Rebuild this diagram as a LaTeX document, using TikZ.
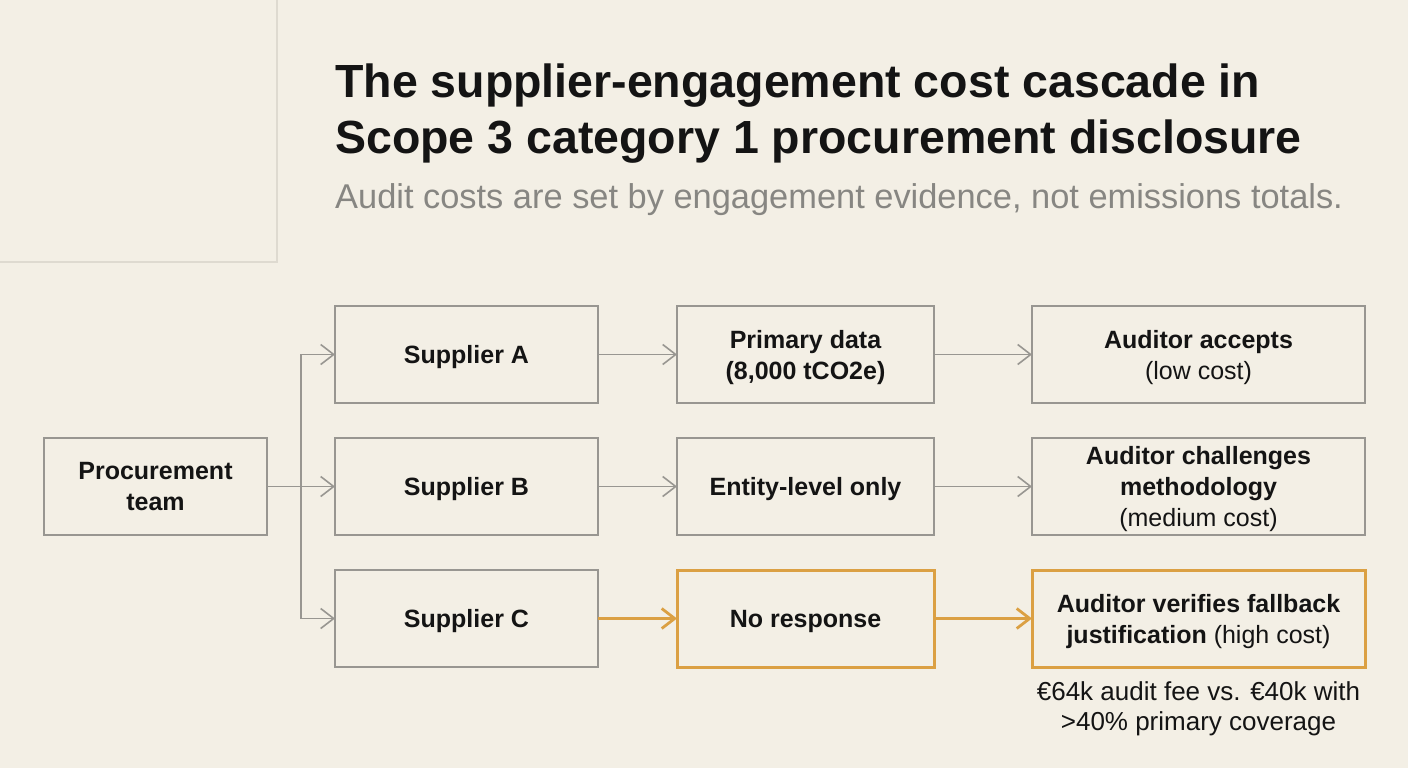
\documentclass[tikz,border=0pt]{standalone}
\usepackage{fontspec}
\setmainfont{Liberation Sans}
\usepackage{xcolor}
\usepackage{tikz}
\usetikzlibrary{arrows.meta,positioning,calc}
\definecolor{pagebg}{RGB}{243,239,229}
\definecolor{panelline}{RGB}{222,218,208}
\definecolor{boxgray}{RGB}{152,150,145}
\definecolor{costorange}{RGB}{219,160,67}
\definecolor{subgray}{RGB}{135,134,130}
\definecolor{inkblack}{RGB}{20,20,20}
\tikzstyle{flowbox}=[rectangle,draw=boxgray,line width=1.6pt,minimum height=97pt,inner sep=0pt,outer sep=0pt,
                  text depth=0pt,align=center,text=inkblack,font=\fontsize{25}{31}\selectfont\bfseries]
\tikzstyle{hotbox}=[flowbox,draw=costorange,line width=3pt]
\tikzstyle{arrow}=[-{Straight Barb[length=13pt,width=20pt,line width=1.6pt]},line width=1.6pt,draw=boxgray]
\tikzstyle{hotarrow}=[-{Straight Barb[length=13pt,width=20pt,line width=2.8pt]},line width=2.8pt,draw=costorange]
\newcommand{\lite}[1]{{\mdseries #1}}

\begin{document}
\begin{tikzpicture}[x=1pt,y=1pt,node distance=35pt and 79pt]
      \fill[pagebg] (0,0) rectangle (1408,-768);
      \useasboundingbox (0,0) rectangle (1408,-768);
      % corner panel
      \draw[panelline,line width=1.2pt] (0,-262) -| (277,0);

      % heading
      \node[anchor=base west,inner sep=0pt,text=inkblack,font=\fontsize{46.5}{56}\selectfont\bfseries]
            (title1) at (335,-97) {The supplier-engagement cost cascade in};
      \node[anchor=base west,inner sep=0pt,text=inkblack,font=\fontsize{46.5}{56}\selectfont\bfseries]
            (title2) at (335,-153) {Scope 3 category 1 procurement disclosure};
      \node[anchor=base west,inner sep=0pt,text=subgray,font=\fontsize{34.4}{40}\selectfont]
            (subtitle) at (335,-208) {Audit costs are set by engagement evidence, not emissions totals.};

      % cascade
      \node[flowbox,minimum width=223pt] (proc) at (155.5,-486.5) {Procurement\\team};
      \node[flowbox,minimum width=263pt,right=68pt of proc] (supB) {Supplier B};
      \node[flowbox,minimum width=263pt,above=of supB] (supA) {Supplier A};
      \node[flowbox,minimum width=263pt,below=of supB] (supC) {Supplier C};
      \node[flowbox,minimum width=257pt,right=of supA] (dataA) {Primary data\\(8,000 tCO2e)};
      \node[flowbox,minimum width=257pt,right=of supB] (dataB) {Entity-level only};
      \node[hotbox,minimum width=257pt,right=of supC] (dataC) {No response};
      \node[flowbox,minimum width=333pt,right=98pt of dataA] (audA) {Auditor accepts\\\lite{(low cost)}};
      \node[flowbox,minimum width=333pt,right=98pt of dataB] (audB) {Auditor challenges\\methodology\\\lite{(medium cost)}};
      \node[hotbox,minimum width=333pt,right=98pt of dataC] (audC) {Auditor verifies fallback\\justification \lite{(high cost)}};
      \node[below=14pt of audC,align=center,inner sep=0pt,text=inkblack,font=\fontsize{26}{30}\selectfont]
            (fee) {€64k audit fee vs. €40k with\\>40\% primary coverage};

      \coordinate (fork) at ($(proc.east)!0.5!(supB.west)$);
      \draw[boxgray,line width=1.6pt] (proc) -- (fork);
      \draw[arrow] (fork) |- (supA);
      \draw[arrow] (fork) -- (supB);
      \draw[arrow] (fork) |- (supC);
      \draw[arrow] (supA) -- (dataA);
      \draw[arrow] (supB) -- (dataB);
      \draw[hotarrow] (supC) -- (dataC);
      \draw[arrow] (dataA) -- (audA);
      \draw[arrow] (dataB) -- (audB);
      \draw[hotarrow] (dataC) -- (audC);
    \end{tikzpicture}
\end{document}
